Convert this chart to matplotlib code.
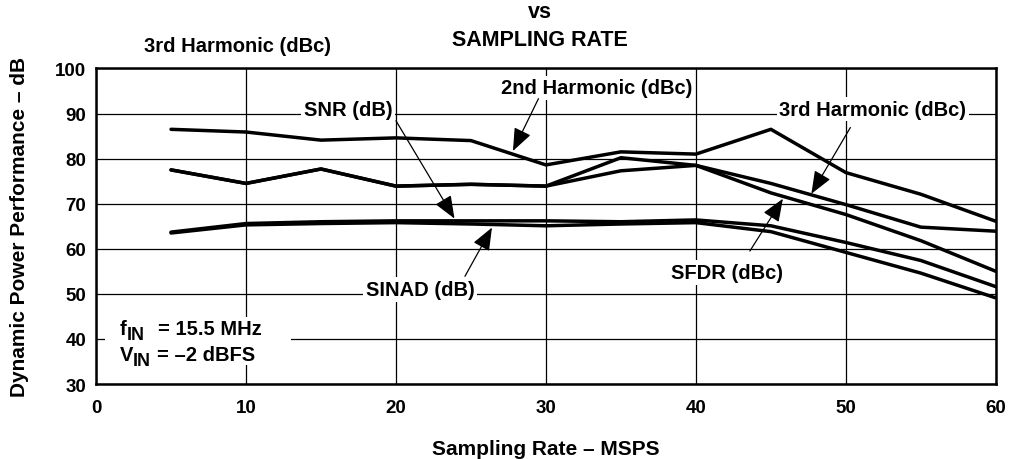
import numpy as np
import matplotlib.pyplot as plt
from matplotlib.patches import Rectangle

plt.rcParams['font.family'] = ['Liberation Sans', 'DejaVu Sans']
plt.rcParams['font.weight'] = 'bold'

# sampling rate (MSPS)
rate = [5, 10, 15, 20, 25, 30, 35, 40, 45, 50, 55, 60]

# measured curves (dB / dBc)
harm2 = [86.5, 85.9, 84.1, 84.6, 84.0, 78.6, 81.5, 81.0, 86.5, 76.9, 72.1, 66.1]
harm3 = [77.5, 74.5, 77.7, 73.9, 74.3, 73.9, 80.2, 78.5, 74.5, 69.8, 64.8, 63.9]
sfdr = [77.5, 74.5, 77.7, 73.9, 74.3, 73.9, 77.3, 78.5, 72.4, 67.6, 61.8, 55.0]
snr = [63.7, 65.6, 66.0, 66.2, 66.2, 66.2, 66.0, 66.4, 65.1, 61.4, 57.4, 51.6]
sinad = [63.5, 65.3, 65.6, 65.8, 65.5, 65.1, 65.5, 65.8, 63.8, 59.2, 54.6, 49.1]

fig = plt.figure(figsize=(10.11, 4.6), dpi=100)
ax = fig.add_axes([0.095, 0.163, 0.89, 0.686])

for s in [harm2, harm3, sfdr, snr, sinad]:
    ax.plot(rate, s, color='black', lw=2.5, solid_capstyle='round', zorder=3)

ax.set_xlim(0, 60)
ax.set_ylim(30, 100)
ax.set_xticks(np.arange(0, 61, 10))
ax.set_yticks(np.arange(30, 101, 10))
ax.grid(True, color='black', lw=0.9)
ax.tick_params(length=0, labelsize=13.5, pad=7)
ax.tick_params(axis='x', pad=11)
for sp in ax.spines.values():
    sp.set_linewidth(1.8)

ax.set_xlabel('Sampling Rate \u2013 MSPS', fontsize=15, fontweight='bold', labelpad=16)
ax.set_ylabel('Dynamic Power Performance \u2013 dB', fontsize=15, fontweight='bold', labelpad=19)

box = dict(facecolor='white', edgecolor='none', pad=2)
arrow = dict(arrowstyle='-|>,head_length=0.7,head_width=0.28', color='black',
             lw=0.9, mutation_scale=20, shrinkA=0, shrinkB=0)

labels = [
    ('SNR (dB)', (16.8, 91.0), (20.0, 88.4), (23.9, 66.7)),
    ('2nd Harmonic (dBc)', (33.4, 95.7), (29.5, 93.3), (27.8, 81.7)),
    ('3rd Harmonic (dBc)', (51.8, 91.0), (50.3, 86.9), (47.7, 72.2)),
    ('SFDR (dBc)', (42.1, 54.7), (43.6, 59.5), (45.8, 71.1)),
    ('SINAD (dB)', (21.6, 51.0), (24.6, 53.9), (26.4, 64.7)),
]
for txt, pos, start, tip in labels:
    ax.text(pos[0], pos[1], txt, ha='center', va='center', fontsize=14.5,
            fontweight='bold', bbox=box, zorder=5)
    ax.annotate('', xy=tip, xytext=start, arrowprops=arrow, zorder=6)

# condition note with subscripts
ax.add_patch(Rectangle((0.6, 34.2), 12.4, 10.7, facecolor='white', edgecolor='none', zorder=4))
note = [
    ('f', (1.6, 41.0), 0, 0, 14.5),
    ('IN', (1.6, 41.0), 7, -5, 13),
    ('= 15.5 MHz', (1.6, 41.0), 38, 0, 14.5),
    ('V', (1.6, 35.4), 0, 0, 14.5),
    ('IN', (1.6, 35.4), 13, -5, 13),
    ('= \u20132 dBFS', (1.6, 35.4), 37, 0, 14.5),
]
for txt, xy, dx, dy, fs in note:
    ax.annotate(txt, xy=xy, xytext=(dx, dy), textcoords='offset pixels',
                ha='left', va='baseline', fontsize=fs, fontweight='bold', zorder=5)

fig.text(0.534, 0.972, 'vs', ha='center', va='center', fontsize=15.5, fontweight='bold')
fig.text(0.534, 0.913, 'SAMPLING RATE', ha='center', va='center', fontsize=15.5, fontweight='bold')
fig.text(0.235, 0.900, '3rd Harmonic (dBc)', ha='center', va='center', fontsize=14.5, fontweight='bold')

fig.savefig('out.png', dpi=100)
